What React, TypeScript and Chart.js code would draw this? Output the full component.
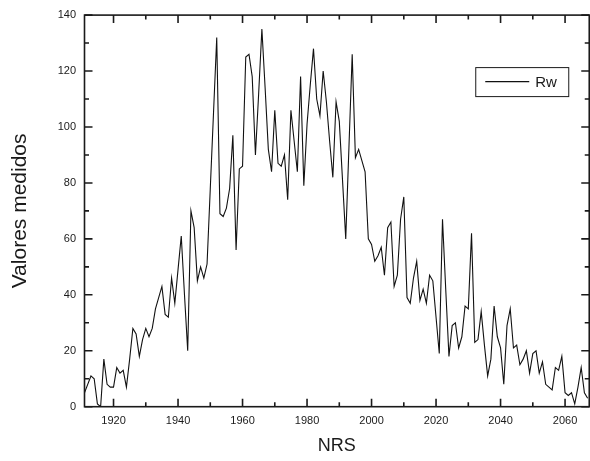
import React, { useEffect, useRef } from "react";
import { Chart, registerables } from "chart.js";

Chart.register(...registerables);

// Annual values of Rw, from FIRST_YEAR onward (one value per year)
const FIRST_YEAR = 1911;
const VALUES_1911_1950 = [
  5, 8, 11, 10, 1, 0, 17, 8, 7, 7,
  14, 12, 13, 7, 17, 28, 26, 18, 24, 28,
  25, 28, 35, 39, 43, 33, 32, 46, 37, 49,
  61, 40, 20, 70, 64, 45, 50, 46, 51, 78,
];
const VALUES_1951_1990 = [
  105, 132, 69, 68, 71, 78, 97, 56, 85, 86,
  125, 126, 118, 90, 112, 135, 114, 92, 84, 106,
  87, 86, 90, 74, 106, 95, 84, 118, 79, 101,
  115, 128, 110, 104, 120, 109, 95, 82, 109, 102,
];
const VALUES_1991_2030 = [
  81, 60, 93, 126, 89, 92, 88, 84, 60, 58,
  52, 54, 57, 47, 64, 66, 43, 47, 67, 75,
  39, 37, 46, 52, 38, 42, 37, 47, 45, 32,
  19, 67, 42, 18, 29, 30, 21, 25, 36, 35,
];
const VALUES_2031_2067 = [
  62, 23, 24, 34, 22, 11, 17, 36, 25, 21,
  8, 29, 35, 21, 22, 15, 17, 20, 12, 19,
  20, 12, 16, 8, 7, 6, 14, 13, 18, 5,
  4, 5, 1, 7, 14, 5, 3,
];
const VALUES = [...VALUES_1911_1950, ...VALUES_1951_1990, ...VALUES_1991_2030, ...VALUES_2031_2067];
const YEARS = VALUES.map((_, i) => FIRST_YEAR + i);

const X_TICKS = [1920, 1940, 1960, 1980, 2000, 2020, 2040, 2060];
const Y_TICKS = [0, 20, 40, 60, 80, 100, 120, 140];
const X_MIN = 1911;
const X_MAX = 2067.5;
const Y_MIN = 0;
const Y_MAX = 140;

const SERIES_LABEL = "Rw";
const X_TITLE = "NRS";
const Y_TITLE = "Valores medidos";

const FONT = '"Liberation Sans", Arial, sans-serif';
const INK = "#1a1a1a";

const framePlugin = {
  id: "originFrame",
  afterDraw(chart: any) {
    const { ctx, chartArea: a, scales } = chart;
    const x = scales.x;
    const y = scales.y;
    const major = 8;
    const minor = 4.5;
    ctx.save();
    ctx.strokeStyle = INK;
    ctx.lineWidth = 1.6;
    ctx.beginPath();
    const xv = x.ticks.map((t: any) => t.value);
    xv.forEach((v: number) => {
      const p = x.getPixelForValue(v);
      ctx.moveTo(p, a.bottom);
      ctx.lineTo(p, a.bottom - major);
      ctx.moveTo(p, a.top);
      ctx.lineTo(p, a.top + major);
    });
    const xs = xv[1] - xv[0];
    for (let v = xv[0] - xs / 2; v <= x.max; v += xs) {
      if (v < x.min) continue;
      const p = x.getPixelForValue(v);
      ctx.moveTo(p, a.bottom);
      ctx.lineTo(p, a.bottom - minor);
      ctx.moveTo(p, a.top);
      ctx.lineTo(p, a.top + minor);
    }
    const yv = y.ticks.map((t: any) => t.value);
    yv.forEach((v: number) => {
      const p = y.getPixelForValue(v);
      ctx.moveTo(a.left, p);
      ctx.lineTo(a.left + major, p);
      ctx.moveTo(a.right, p);
      ctx.lineTo(a.right - major, p);
    });
    const ys = yv[1] - yv[0];
    for (let v = yv[0] + ys / 2; v < y.max; v += ys) {
      const p = y.getPixelForValue(v);
      ctx.moveTo(a.left, p);
      ctx.lineTo(a.left + minor, p);
      ctx.moveTo(a.right, p);
      ctx.lineTo(a.right - minor, p);
    }
    ctx.stroke();
    ctx.strokeRect(a.left, a.top, a.right - a.left, a.bottom - a.top);
    ctx.restore();
  },
};

const legendPlugin = {
  id: "boxLegend",
  afterDraw(chart: any) {
    const { ctx, chartArea: a } = chart;
    const ds = chart.data.datasets[0];
    const w = 93;
    const h = 29;
    const bx = a.right - 21 - w;
    const by = a.top + 52;
    ctx.save();
    ctx.fillStyle = "#ffffff";
    ctx.fillRect(bx, by, w, h);
    ctx.strokeStyle = INK;
    ctx.lineWidth = 1;
    ctx.strokeRect(bx + 0.5, by + 0.5, w, h);
    const ly = by + 14.5;
    ctx.beginPath();
    ctx.moveTo(bx + 10, ly);
    ctx.lineTo(bx + 54, ly);
    ctx.strokeStyle = ds.borderColor;
    ctx.lineWidth = ds.borderWidth;
    ctx.stroke();
    ctx.fillStyle = INK;
    ctx.font = `15px ${FONT}`;
    ctx.textBaseline = "middle";
    ctx.textAlign = "left";
    ctx.fillText(ds.label, bx + 60, ly + 1);
    ctx.restore();
  },
};

export default function App() {
  const canvasRef = useRef<HTMLCanvasElement | null>(null);

  useEffect(() => {
    const canvas = canvasRef.current;
    if (!canvas) return;
    const chart = new Chart(canvas, {
      type: "line",
      data: {
        datasets: [
          {
            label: SERIES_LABEL,
            data: YEARS.map((yr, i) => ({ x: yr, y: VALUES[i] })),
            borderColor: "#111111",
            borderWidth: 1.1,
            pointRadius: 0,
            tension: 0,
            fill: false,
          },
        ],
      },
      options: {
        animation: false,
        responsive: false,
        devicePixelRatio: 1,
        layout: { padding: { top: 11, right: 0.75, left: 0, bottom: 0 } },
        plugins: {
          legend: { display: false },
          tooltip: { enabled: false },
        },
        scales: {
          x: {
            type: "linear",
            min: X_MIN,
            max: X_MAX,
            afterBuildTicks: (s: any) => {
              s.ticks = X_TICKS.map((v) => ({ value: v }));
            },
            afterFit: (s: any) => {
              s.height = 54.3;
            },
            grid: { display: false, drawTicks: false },
            border: { display: false },
            ticks: {
              color: INK,
              padding: 8,
              maxRotation: 0,
              autoSkip: false,
              font: { family: FONT, size: 11 },
              callback: (v: any) => String(v),
            },
            title: {
              display: true,
              text: X_TITLE,
              color: INK,
              font: { family: FONT, size: 18 },
              padding: { top: 0, bottom: 4.5 },
            },
          },
          y: {
            type: "linear",
            min: Y_MIN,
            max: Y_MAX,
            afterBuildTicks: (s: any) => {
              s.ticks = Y_TICKS.map((v) => ({ value: v }));
            },
            afterFit: (s: any) => {
              s.width = 84.5;
            },
            grid: { display: false, drawTicks: false },
            border: { display: false },
            ticks: {
              color: INK,
              padding: 8.5,
              autoSkip: false,
              font: { family: FONT, size: 11 },
              callback: (v: any) => String(v),
            },
            title: {
              display: true,
              text: Y_TITLE,
              color: INK,
              font: { family: FONT, size: 21 },
              padding: { top: 7.5, bottom: 0 },
            },
          },
        },
      },
      plugins: [framePlugin, legendPlugin],
    });
    return () => chart.destroy();
  }, []);

  return (
    <div style={{ position: "fixed", left: 0, top: 0, width: 590, height: 461, background: "#fff" }}>
      <canvas ref={canvasRef} width={590} height={461} style={{ display: "block" }} />
    </div>
  );
}
